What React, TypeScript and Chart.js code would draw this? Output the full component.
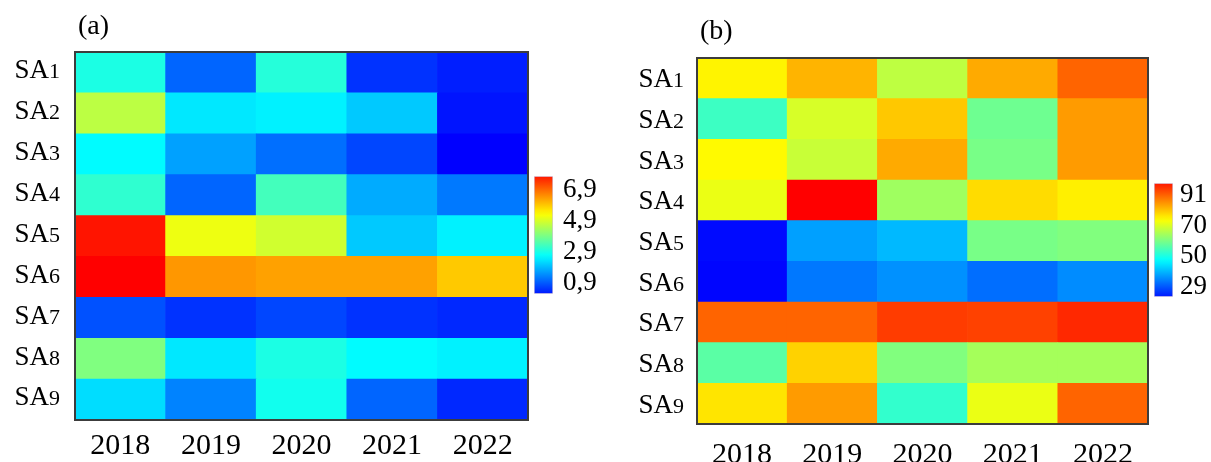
import React, { useEffect, useRef } from 'react';
import { Chart, registerables } from 'chart.js';

Chart.register(...registerables);

const FONT = "'Liberation Serif', 'Times New Roman', Times, serif";

// ---------- data ----------
const years = ['2018', '2019', '2020', '2021', '2022'];
const rowLabels = ['SA1', 'SA2', 'SA3', 'SA4', 'SA5', 'SA6', 'SA7', 'SA8', 'SA9'];

// panel (a)
const aSA1 = [3.0, 1.2, 3.1, 0.7, 0.5];
const aSA2 = [4.6, 2.5, 2.6, 2.2, 0.4];
const aSA3 = [2.7, 1.8, 1.3, 0.9, 0.2];
const aSA4 = [3.2, 1.2, 3.4, 1.9, 1.4];
const aSA5 = [7.6, 5.1, 4.8, 2.2, 2.6];
const aSA6 = [7.8, 6.3, 6.2, 6.2, 5.8];
const aSA7 = [1.0, 0.7, 0.9, 0.7, 0.6];
const aSA8 = [4.0, 2.5, 3.0, 2.7, 2.6];
const aSA9 = [2.4, 1.5, 2.9, 1.2, 0.6];
const aRange = [0.2, 7.8];
const aTicks = [0.9, 2.9, 4.9, 6.9];

// panel (b)
const bSA1 = [74.4, 80.9, 66.8, 81.9, 88.9];
const bSA2 = [53.7, 69.3, 78.9, 58.7, 83.4];
const bSA3 = [73.8, 67.8, 81.9, 59.7, 83.4];
const bSA4 = [71.3, 99.0, 63.7, 76.9, 74.8];
const bSA5 = [23.0, 38.1, 40.6, 59.7, 60.7];
const bSA6 = [22.5, 34.1, 36.6, 33.1, 36.1];
const bSA7 = [88.9, 88.9, 93.0, 92.5, 95.0];
const bSA8 = [56.7, 77.9, 60.7, 64.3, 64.3];
const bSA9 = [75.9, 83.4, 52.7, 71.3, 88.9];
const bRange = [22, 99];
const bTicks = [29, 50, 70, 91];

const panelA = [aSA1, aSA2, aSA3, aSA4, aSA5, aSA6, aSA7, aSA8, aSA9];
const panelB = [bSA1, bSA2, bSA3, bSA4, bSA5, bSA6, bSA7, bSA8, bSA9];

// ---------- colour map (blue -> cyan -> yellow -> red) ----------
const STOPS = [
  [0, 0, 255],
  [0, 255, 255],
  [255, 255, 0],
  [255, 0, 0],
];
function colormap(t: number): string {
  const tt = Math.max(0, Math.min(1, t));
  const s = tt * 3;
  const i = Math.min(2, Math.floor(s));
  const f = s - i;
  const a = STOPS[i];
  const b = STOPS[i + 1];
  const c = a.map((v, k) => Math.round(v + (b[k] - v) * f));
  return `rgb(${c[0]},${c[1]},${c[2]})`;
}

type Rect = { left: number; top: number; width: number; height: number };

type HeatProps = {
  rows: number[][];
  range: number[];
  tag: string;
  canvas: Rect;
  plot: { left: number; top: number; right: number; bottom: number };
  xPad: number;
  labelDy: number;
  labelGap: number;
  tagDy: number;
};

function Heatmap(p: HeatProps) {
  const ref = useRef<HTMLCanvasElement | null>(null);
  useEffect(() => {
    if (!ref.current) return;
    const n = p.rows.length;
    const [vmin, vmax] = p.range;
    const datasets = p.rows.map((_, k) => {
      const ri = n - 1 - k;
      const vals = p.rows[ri];
      return {
        label: rowLabels[ri],
        data: vals.map(() => 1),
        backgroundColor: vals.map((v) => colormap((v - vmin) / (vmax - vmin))),
        borderWidth: 0,
        barPercentage: 1,
        categoryPercentage: 1,
        stack: 's',
      };
    });
    const yW = p.plot.left - p.canvas.left;
    const xH = p.canvas.top + p.canvas.height - p.plot.bottom;
    const overlay = {
      id: 'overlay',
      afterDatasetsDraw(chart: any) {
        const { ctx, chartArea: ca } = chart;
        const y = chart.scales.y;
        ctx.save();
        ctx.strokeStyle = '#3c3c3c';
        ctx.lineWidth = 2;
        ctx.strokeRect(ca.left, ca.top, ca.right - ca.left, ca.bottom - ca.top);
        ctx.fillStyle = '#000';
        ctx.textBaseline = 'alphabetic';
        ctx.textAlign = 'left';
        const saSize = 27;
        const numSize = 22;
        rowLabels.forEach((lab, i) => {
          const yc = y.getPixelForValue(n - i - 0.5) + p.labelDy;
          const base = yc + 0.331 * saSize;
          const pre = lab.slice(0, 2);
          const num = lab.slice(2);
          ctx.font = `${numSize}px ${FONT}`;
          const wNum = ctx.measureText(num).width;
          ctx.font = `${saSize}px ${FONT}`;
          const wPre = ctx.measureText(pre).width;
          const xr = ca.left - p.labelGap;
          ctx.fillText(pre, xr - wNum - wPre, base);
          ctx.font = `${numSize}px ${FONT}`;
          ctx.fillText(num, xr - wNum, base);
        });
        ctx.font = `28px ${FONT}`;
        ctx.fillText(p.tag, ca.left + 3, ca.top + p.tagDy);
        ctx.restore();
      },
    };
    const chart = new Chart(ref.current, {
      type: 'bar',
      data: { labels: years, datasets: datasets as any },
      options: {
        animation: false,
        responsive: false,
        maintainAspectRatio: false,
        layout: {
          padding: {
            left: 0,
            top: p.plot.top - p.canvas.top,
            right: p.canvas.left + p.canvas.width - p.plot.right,
            bottom: 0,
          },
        },
        plugins: {
          legend: { display: false },
          tooltip: { enabled: false },
          title: { display: false },
        },
        scales: {
          x: {
            type: 'category',
            stacked: true,
            grid: { display: false, drawTicks: false },
            border: { display: false },
            ticks: {
              font: { family: FONT, size: 30 },
              color: '#000',
              padding: p.xPad,
              maxRotation: 0,
              autoSkip: false,
            },
            afterFit: (s: any) => {
              s.height = xH;
            },
          },
          y: {
            type: 'linear',
            stacked: true,
            min: 0,
            max: n,
            grid: { display: false, drawTicks: false },
            border: { display: false },
            ticks: { display: false },
            afterFit: (s: any) => {
              s.width = yW;
            },
          },
        },
      } as any,
      plugins: [overlay],
    });
    return () => chart.destroy();
  }, []);
  return (
    <canvas
      ref={ref}
      width={p.canvas.width}
      height={p.canvas.height}
      style={{
        position: 'absolute',
        left: p.canvas.left,
        top: p.canvas.top,
        width: p.canvas.width,
        height: p.canvas.height,
      }}
    />
  );
}

type BarProps = {
  range: number[];
  ticks: number[];
  fmt: (v: number) => string;
  canvas: Rect;
  plot: { left: number; top: number; right: number; bottom: number };
  pad: number;
};

function ColorBar(p: BarProps) {
  const ref = useRef<HTMLCanvasElement | null>(null);
  useEffect(() => {
    if (!ref.current) return;
    const [vmin, vmax] = p.range;
    const yW = p.canvas.left + p.canvas.width - p.plot.right;
    const chart = new Chart(ref.current, {
      type: 'bar',
      data: {
        labels: [''],
        datasets: [
          {
            data: [[vmin, vmax]] as any,
            backgroundColor: (c: any) => {
              const ch = c.chart;
              if (!ch.chartArea) return colormap(0.5);
              const y = ch.scales.y;
              const g = ch.ctx.createLinearGradient(0, y.getPixelForValue(vmin), 0, y.getPixelForValue(vmax));
              for (let i = 0; i <= 24; i++) g.addColorStop(i / 24, colormap(0.03 + 0.94 * (i / 24)));
              return g;
            },
            borderColor: 'rgba(205,190,215,0.9)',
            borderWidth: 1,
            borderSkipped: false,
            barPercentage: 1,
            categoryPercentage: 1,
          },
        ],
      },
      options: {
        animation: false,
        responsive: false,
        maintainAspectRatio: false,
        layout: {
          padding: {
            left: p.plot.left - p.canvas.left,
            top: p.plot.top - p.canvas.top,
            right: 0,
            bottom: p.canvas.top + p.canvas.height - p.plot.bottom,
          },
        },
        plugins: { legend: { display: false }, tooltip: { enabled: false } },
        scales: {
          x: { display: false },
          y: {
            type: 'linear',
            position: 'right',
            min: vmin,
            max: vmax,
            grid: { display: false, drawTicks: false },
            border: { display: false },
            ticks: {
              font: { family: FONT, size: 27 },
              color: '#000',
              padding: p.pad,
              callback: (v: any) => p.fmt(Number(v)),
            },
            afterBuildTicks: (s: any) => {
              s.ticks = p.ticks.map((v) => ({ value: v }));
            },
            afterFit: (s: any) => {
              s.width = yW;
            },
          },
        },
      } as any,
    });
    return () => chart.destroy();
  }, []);
  return (
    <canvas
      ref={ref}
      width={p.canvas.width}
      height={p.canvas.height}
      style={{
        position: 'absolute',
        left: p.canvas.left,
        top: p.canvas.top,
        width: p.canvas.width,
        height: p.canvas.height,
      }}
    />
  );
}

export default function App() {
  return (
    <div
      style={{
        position: 'absolute',
        left: 0,
        top: 0,
        width: 1211,
        height: 462,
        background: '#fff',
        overflow: 'hidden',
      }}
    >
      <Heatmap
        rows={panelA}
        range={aRange}
        tag="(a)"
        canvas={{ left: 0, top: 0, width: 530, height: 462 }}
        plot={{ left: 75, top: 52, right: 528, bottom: 420 }}
        xPad={8}
        labelDy={-3}
        labelGap={15}
        tagDy={-18}
      />
      <ColorBar
        range={aRange}
        ticks={aTicks}
        fmt={(v) => v.toFixed(1).replace('.', ',')}
        canvas={{ left: 530, top: 150, width: 80, height: 170 }}
        plot={{ left: 534, top: 173, right: 553, bottom: 294 }}
        pad={10}
      />
      <Heatmap
        rows={panelB}
        range={bRange}
        tag="(b)"
        canvas={{ left: 600, top: 0, width: 550, height: 462 }}
        plot={{ left: 697, top: 58, right: 1148, bottom: 424 }}
        xPad={13}
        labelDy={0}
        labelGap={13}
        tagDy={-19}
      />
      <ColorBar
        range={bRange}
        ticks={bTicks}
        fmt={(v) => String(Math.round(v))}
        canvas={{ left: 1150, top: 160, width: 61, height: 160 }}
        plot={{ left: 1154, top: 179, right: 1173, bottom: 299 }}
        pad={7}
      />
    </div>
  );
}
